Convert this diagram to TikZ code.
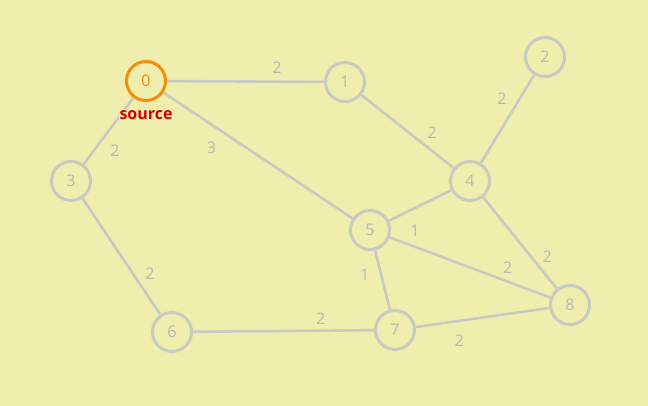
\documentclass[tikz,border=0pt]{standalone}
\usepackage{fontspec}
\setmainfont{Open Sans}
\usepackage{tikz}
\usetikzlibrary{positioning}

\definecolor{bgyellow}{RGB}{240,238,172}
\definecolor{edgegray}{RGB}{202,202,196}
\definecolor{textgray}{RGB}{184,184,178}
\definecolor{srcorange}{RGB}{245,142,10}
\definecolor{srcred}{RGB}{212,0,0}

\begin{document}
\begin{tikzpicture}[
    x=1pt, y=-1pt,
    vertex/.style={circle, draw=edgegray, line width=3pt, minimum size=39pt, inner sep=0pt, text=textgray, font=\fontsize{16}{16}\selectfont},
    source/.style={vertex, draw=srcorange, text=srcorange},
    edge/.style={draw=edgegray, line width=2.6pt},
    wt/.style={text=textgray, font=\fontsize{16}{16}\selectfont, inner sep=0pt}
]
\fill[bgyellow] (0,0) rectangle (648,406);
\useasboundingbox (0,0) rectangle (648,406);

\node[source] (n0) at (146,81) {0};
\node[vertex] (n1) at (345,82) {1};
\node[vertex] (n2) at (545,57) {2};
\node[vertex] (n3) at (71,181) {3};
\node[vertex] (n4) at (470,181) {4};
\node[vertex] (n5) at (370,230) {5};
\node[vertex] (n6) at (172,332) {6};
\node[vertex] (n7) at (395,330) {7};
\node[vertex] (n8) at (570,305) {8};

% weighted edges
\draw[edge] (n0) -- node[wt, pos=.70, yshift=13.5pt] {2} (n1);
\draw[edge] (n0) -- node[wt, pos=.79, xshift=21pt] {2} (n3);
\draw[edge] (n0) -- node[wt, pos=.254, yshift=-23pt] {3} (n5);
\draw[edge] (n1) -- node[wt, pos=.768, yshift=18pt] {2} (n4);
\draw[edge] (n2) -- node[wt, pos=.266, xshift=-18pt] {2} (n4);
\draw[edge] (n3) -- node[wt, pos=.647, xshift=17pt] {2} (n6);
\draw[edge] (n4) -- node[wt, pos=.58, yshift=-22.5pt] {1} (n5);
\draw[edge] (n5) -- node[wt, pos=.735, yshift=14pt] {2} (n8);
\draw[edge] (n4) -- node[wt, pos=.653, xshift=16pt] {2} (n8);
\draw[edge] (n5) -- node[wt, pos=.42, xshift=-16.5pt] {1} (n7);
\draw[edge] (n6) -- node[wt, pos=.705, yshift=12pt] {2} (n7);
\draw[edge] (n7) -- node[wt, pos=.326, yshift=-20pt] {2} (n8);

\node[text=srcred, fill=bgyellow, font=\fontsize{16}{16}\selectfont\bfseries, inner sep=1pt, below=7pt of n0.south] (srclabel) {source};
\end{tikzpicture}
\end{document}
